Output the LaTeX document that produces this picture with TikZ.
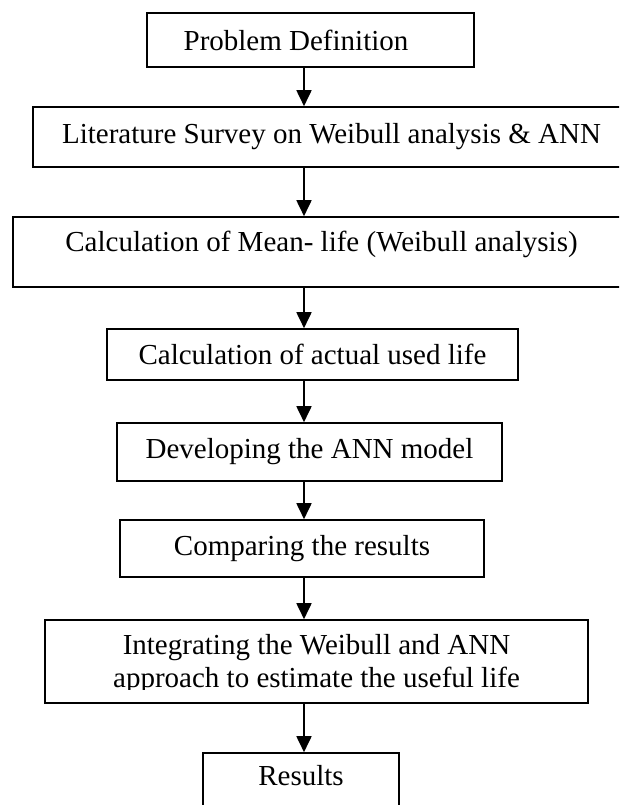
\documentclass[tikz,border=0pt]{standalone}
\usepackage{fontspec}
\setmainfont{Liberation Serif}
\usetikzlibrary{arrows.meta}

\begin{document}
\begin{tikzpicture}[x=1pt, y=-1pt,
  box/.style={draw, line width=1.6pt, rectangle, align=center, inner sep=0pt,
              font=\fontsize{29}{33}\selectfont},
  arr/.style={line width=1.8pt, -{Triangle[width=15pt,length=16pt]}}]
  \useasboundingbox (0,0) rectangle (619,805);
  \clip (0,0) rectangle (619,805);

  % Steps
  \node[box, minimum width=327pt, minimum height=54pt] (def) at (310.5,40)
    {Problem Definition\hspace{1em}};
  \node[box, minimum width=597pt, minimum height=60pt] (lit) at (331.5,137)
    {Literature Survey on Weibull analysis \& ANN};
  \node[box, minimum width=617pt, minimum height=70pt, text depth=21pt] (mean) at (321.5,252)
    {Calculation of Mean- life (Weibull analysis)};
  \node[box, minimum width=411pt, minimum height=51pt] (used) at (312.5,354.5)
    {Calculation of actual used life};
  \node[box, minimum width=385pt, minimum height=58pt] (ann) at (309.5,452)
    {Developing the ANN model};
  \node[box, minimum width=364pt, minimum height=57pt] (comp) at (302,548.5)
    {Comparing the results};
  \node[box, minimum width=543pt, minimum height=83pt] (integ) at (316.5,661.5) {};
  \begin{scope}
    \clip (0,600) rectangle (619,689);
    \node[align=center, font=\fontsize{29}{33}\selectfont] (integtext) at (316.5,664.5)
      {Integrating the Weibull and ANN\\approach to estimate the useful life};
  \end{scope}
  \node[box, minimum width=196pt, minimum height=56pt, text depth=12pt] (res) at (301,781)
    {Results};

  % Arrows
  \coordinate (spine) at (304,0);
  \foreach \a/\b in {def/lit, lit/mean, mean/used, used/ann, ann/comp, comp/integ, integ/res}
    \draw[arr] (\a.south -| spine) -- (\b.north -| spine);
\end{tikzpicture}
\end{document}
